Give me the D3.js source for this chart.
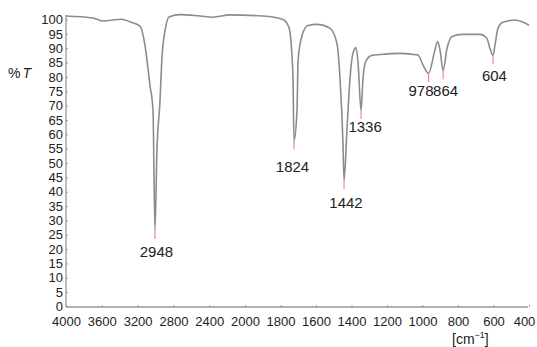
<!DOCTYPE html>
<html>
<head>
<meta charset="utf-8">
<script src="https://cdn.jsdelivr.net/npm/d3@7/dist/d3.min.js"></script>
<style>
  body { margin: 0; background: #fff; }
  text { font-family: "Liberation Sans", Arial, sans-serif; fill: #222; }
</style>
</head>
<body>
<svg id="chart" width="537" height="347"></svg>
<script>
// spectrum trace, wavenumber [cm-1] and %T
let waveNumbers = [4000, 3698, 3587, 3374, 3285, 3173, 3118, 3062, 3028, 3006, 2984, 2950, 2928, 2894, 2849,
  2727, 2503, 2358, 2168, 1899, 1786, 1752, 1730, 1724, 1707, 1701, 1679, 1645, 1594, 1521, 1482, 1465,
  1448, 1442, 1425, 1408, 1392, 1375, 1364, 1346, 1335, 1318, 1285, 1239, 1127, 1025, 997, 966, 932, 915,
  901, 884, 862, 834, 777, 676, 637, 620, 603, 592, 575, 547, 479, 439, 400];
let transmittance = [101.2, 100.5, 99.5, 100.1, 99.2, 97.7, 91.1, 77.1, 68.4, 26.5, 54.4, 71.5, 86.6, 96.0, 100.9,
  101.7, 101.2, 100.8, 101.6, 101.2, 100.0, 97.1, 80.7, 57.8, 68.3, 85.7, 94.4, 97.9, 98.3, 96.9, 91.6, 79.8,
  56.8, 43.9, 62.4, 79.8, 88.2, 90.2, 85.7, 68.3, 79.8, 85.7, 87.5, 87.8, 88.2, 87.6, 84.1, 81.2, 88.8, 92.3,
  89.2, 82.2, 89.9, 94.1, 94.8, 94.8, 93.4, 89.9, 87.5, 90.9, 96.9, 99.0, 99.8, 99.2, 98.0];

// marked peaks: where they sit on the trace and the text printed under them
let peakPositions = [3006, 1724, 1442, 1346, 966, 884, 603];
let peakValues = [26.5, 57.8, 43.9, 68.3, 81.2, 82.2, 87.5];
let peakLabels = ["2948", "1824", "1442", "1336", "978", "864", "604"];

let xTicks = [4000, 3600, 3200, 2800, 2400, 2000, 1800, 1600, 1400, 1200, 1000, 800, 600, 400];
let yTicks = d3.range(0, 101, 5);

// hand nudges for the peak labels (layout only)
let labelDx = [1.5, -1.5, 2, 4, -7.5, 2.5, 1.5];
let labelDy = [27, 31, 27, 22, 23, 25, 26];

var svg = d3.select("#chart");

// axis is compressed above 2000 cm-1
var x = d3.scaleLinear()
  .domain([4000, 2000, 400])
  .range([66, 245, 529]);

var y = d3.scaleLinear()
  .domain([0, 100])
  .range([306.5, 19.5]);

var points = waveNumbers.map(function (w, i) { return [w, transmittance[i]]; });

// axes
var xAxis = svg.append("g")
  .attr("transform", "translate(0,307)")
  .call(d3.axisBottom(x)
    .tickValues(xTicks)
    .tickFormat(d3.format("d"))
    .tickSizeInner(-2)
    .tickSizeOuter(0)
    .tickPadding(10));
xAxis.select(".domain").attr("d", "M66,0H528");
xAxis.selectAll("line").attr("stroke", "#999");
xAxis.selectAll("text").attr("font-size", 13).attr("fill", "#222");
xAxis.selectAll(".tick").filter(function (d) { return d === 400; })
  .select("text").attr("dx", -5);

var yAxis = svg.append("g")
  .attr("transform", "translate(66,0)")
  .call(d3.axisLeft(y)
    .tickValues(yTicks)
    .tickSizeInner(-2)
    .tickSizeOuter(0)
    .tickPadding(3));
yAxis.select(".domain").attr("d", "M0,15V307");
yAxis.selectAll("line").attr("stroke", "#999");
yAxis.selectAll("text").attr("font-size", 13).attr("fill", "#222");
svg.selectAll(".domain").attr("stroke", "#999").attr("stroke-width", 1.3);

// trace
svg.append("path")
  .datum(points)
  .attr("fill", "none")
  .attr("stroke", "#8c8c8c")
  .attr("stroke-width", 1.6)
  .attr("stroke-linejoin", "round")
  .attr("d", d3.line()
    .x(function (d) { return x(d[0]); })
    .y(function (d) { return y(d[1]); })
    .curve(d3.curveMonotoneX));

// red peak marks
svg.selectAll(".mark")
  .data(peakPositions)
  .enter()
  .append("line")
  .attr("class", "mark")
  .attr("x1", function (d) { return x(d); })
  .attr("x2", function (d) { return x(d); })
  .attr("y1", function (d, i) { return y(peakValues[i]); })
  .attr("y2", function (d, i) { return y(peakValues[i] - 3); })
  .attr("stroke", "#f08a8a")
  .attr("stroke-width", 1.2);

// peak labels
svg.selectAll(".peak")
  .data(peakPositions)
  .enter()
  .append("text")
  .attr("class", "peak")
  .attr("x", function (d, i) { return x(d) + labelDx[i]; })
  .attr("y", function (d, i) { return y(peakValues[i]) + labelDy[i]; })
  .attr("text-anchor", "middle")
  .attr("font-size", 15)
  .text(function (d, i) { return peakLabels[i]; });

// axis titles
var yTitle = svg.append("text")
  .attr("x", 8)
  .attr("y", 78)
  .attr("font-size", 14);
yTitle.append("tspan").text("%");
yTitle.append("tspan").attr("font-style", "italic").attr("dx", 2).text("T");

var xTitle = svg.append("text")
  .attr("x", 452)
  .attr("y", 344)
  .attr("font-size", 14);
xTitle.append("tspan").text("[cm");
xTitle.append("tspan").attr("font-size", 9).attr("dy", -6).text("\u22121");
xTitle.append("tspan").attr("dy", 6).text("]");
</script>
</body>
</html>
